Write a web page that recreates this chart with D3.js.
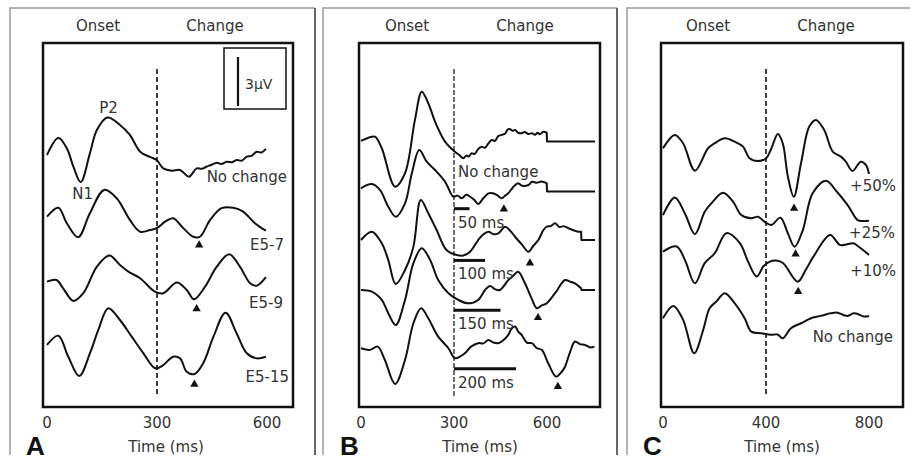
<!DOCTYPE html>
<html>
<head>
<meta charset="utf-8">
<script src="https://cdn.jsdelivr.net/npm/d3@7"></script>
<style>
  body { margin: 0; background: #fff; }
  svg text { font-family: "DejaVu Sans", sans-serif; fill: #333; }
</style>
</head>
<body>
<svg id="chart" width="910" height="465"></svg>
<script>
// ---- data: [time ms, μV relative to the trace baseline] ----
// panel A (electrode change)
var labelsA = ["No change", "E5-7", "E5-9", "E5-15"];
var offsetsA = [15.44, 11.66, 7.68, 3.80];   // stacking baselines (μV)
var ticksA = [0, 300, 600];
var aNoChange = [[0,0],[31,1.04],[54,0.41],[72,-0.72],[92,-1.66],[117,0.1],[136,1.53],[165,2.29],[199,1.84],[226,1.23],[254,0.2],[281,-0.12],[299,-0.31],[317,-0.82],[340,-0.96],[363,-0.92],[387,-1.33],[408,-0.82],[422,-0.85],[435,-0.72],[449,-0.6],[463,-0.47],[476,-0.55],[490,-0.41],[504,-0.45],[517,-0.31],[531,-0.35],[545,-0.1],[558,-0.05],[572,0.2],[585,0.15],[597,0.37]];
var aE57 = [[0,0],[31,0.55],[54,-0.4],[85,-1.26],[117,0.21],[156,1.64],[190,1.13],[226,-0.2],[254,-0.92],[281,-0.82],[299,-0.71],[322,-0.31],[344,-0.1],[372,-0.71],[399,-1.23],[417,-1.23],[445,-0.2],[476,0.52],[508,0.55],[535,0.31],[567,-0.4],[597,-0.86]];
var aE59 = [[0,0],[26,0.1],[44,-0.41],[72,-1.18],[99,-0.71],[136,0.92],[170,1.6],[199,1.02],[222,0.61],[254,0.21],[294,-0.61],[317,-0.71],[354,-0.06],[381,-0.51],[401,-1.08],[431,-0.31],[463,0.92],[497,1.68],[526,0.92],[554,-0.1],[572,-0.25],[597,0.27]];
var aE515 = [[0,0],[31,0.57],[58,-0.72],[88,-1.9],[117,-0.51],[140,0.92],[167,2.25],[199,1.53],[231,0.51],[263,-0.51],[295,-1.43],[317,-1.23],[344,-0.72],[363,-0.82],[381,-1.64],[402,-1.78],[426,-1.12],[454,0.51],[487,1.98],[517,0.72],[545,-0.51],[572,-0.82],[597,-0.72]];
var arrowsA = [[1,415,-1.74],[2,408,-1.67],[3,402,-2.41]];   // [trace, ms, μV]

// panel B (change duration)
var labelsB = ["No change", "50 ms", "100 ms", "150 ms", "200 ms"];
var durationsB = [50, 100, 150, 200];
var offsetsB = [16.30, 13.40, 10.23, 7.17, 3.60];
var ticksB = [0, 300, 600];
var bNoChange = [[0,0],[24,0.2],[45,0.26],[67,-0.45],[110,-2.8],[142,-1.98],[174,1.29],[196,3.02],[217,2.31],[239,1.18],[271,-0.04],[303,-0.66],[316,-0.85],[330,-1.06],[340,-0.9],[348,-0.95],[357,-0.75],[366,-0.8],[378,-0.5],[389,-0.35],[400,-0.42],[411,-0.15],[422,0.06],[432,0.0],[443,0.3],[454,0.37],[465,0.45],[473,0.7],[481,0.72],[489,0.62],[497,0.67],[507,0.5],[518,0.47],[528,0.55],[540,0.42],[551,0.47],[561,0.38],[570,0.5],[577,0.41],[588,0.56],[599,0.51],[600,-0.04],[755,-0.04]];
var b50 = [[0,0],[35,0.26],[61,-0.1],[88,-1.13],[112,-1.74],[142,-0.92],[164,0.92],[188,2.35],[212,1.63],[239,1.12],[271,0.41],[298,-0.52],[312,-0.45],[325,-0.61],[340,-0.4],[352,-0.52],[365,-0.7],[378,-0.96],[395,-0.6],[411,-0.31],[425,-0.3],[438,-0.41],[454,-0.61],[465,-0.45],[475,-0.31],[490,0.05],[507,0.31],[520,0.15],[540,0.2],[552,0.4],[567,0.34],[582,0.42],[599,0.31],[600,-0.2],[755,-0.2]];
var b100 = [[0,0],[35,0.51],[67,-0.2],[88,-1.23],[112,-2.7],[142,-1.84],[169,-0.41],[193,2.45],[217,1.64],[244,0.61],[276,-0.61],[309,-0.92],[330,-0.95],[352,-0.72],[378,0],[395,0.35],[411,0.51],[428,0.35],[443,0.41],[465,0.82],[480,0.6],[497,0.2],[520,-0.3],[540,-0.72],[556,-0.35],[572,0],[588,0.6],[599,0.82],[612,0.85],[626,1.02],[640,0.8],[655,0.85],[669,0.72],[685,0.6],[701,0.51],[710,0.5],[711,0],[755,0]];
var b150 = [[0,0],[35,-0.1],[67,-0.61],[88,-1.43],[112,-2.15],[142,-0.61],[169,1.64],[196,2.56],[223,1.84],[249,0.61],[282,-0.2],[314,-0.61],[346,-0.82],[378,-0.61],[400,0.0],[416,0.25],[432,0.05],[448,0.0],[475,0.6],[490,0.85],[507,1.12],[529,0.41],[550,-0.5],[567,-1.12],[583,-0.95],[599,-0.82],[626,-0.2],[658,0.61],[675,0.5],[690,0.41],[710,0.1],[711,0],[755,0]];
var b200 = [[0,0],[29,-0.1],[54,0.1],[77,-0.72],[110,-2.19],[142,-0.72],[169,1.53],[194,2.45],[217,1.84],[249,0.71],[282,0],[303,-0.61],[320,-0.5],[335,-0.31],[355,0.1],[378,0.31],[395,0.3],[411,0.51],[427,0.35],[443,0.31],[460,0.5],[475,0.82],[486,1.2],[497,1.33],[508,1.0],[518,0.82],[535,0.35],[551,0.31],[568,0.0],[583,-0.1],[604,-0.92],[629,-1.74],[645,-1.5],[658,-1.13],[675,-0.2],[690,0.41],[706,0.25],[723,0.2],[740,0.05],[753,0.1]];
var arrowsB = [[1,461,-1.27],[2,545,-1.41],[3,571,-1.70],[4,635,-2.35]];

// panel C (size of change)
var labelsC = ["+50%", "+25%", "+10%", "No change"];
var offsetsC = [15.85, 11.76, 9.52, 5.44];
var ticksC = [0, 400, 800];
var c50 = [[0,0],[46,0.82],[78,0.31],[124,-1.37],[175,0],[201,0.31],[240,0.61],[278,0.41],[311,0.1],[336,-0.61],[369,-0.78],[401,-0.61],[421,0],[446,0.88],[465,0.31],[485,-1.74],[508,-2.97],[536,-0.92],[568,1.33],[594,1.74],[626,1.12],[659,-0.2],[691,-0.51],[710,-0.82],[736,-1.39],[768,-0.82],[788,-1.02],[800,-1.58]];
var c25 = [[0,0],[46,1.08],[85,0.1],[124,-1.17],[162,0.2],[188,0.72],[233,1.37],[272,0.82],[304,0],[343,-0.2],[369,-0.1],[394,-0.41],[421,-0.61],[456,-0.16],[485,-1.12],[511,-1.94],[543,-0.92],[581,1.33],[633,2.1],[672,1.49],[717,0.61],[756,-0.31],[775,-0.37],[800,-0.35]];
var c10 = [[0,0],[53,0.31],[85,-0.51],[124,-1.94],[162,-0.71],[201,-0.1],[246,1.13],[299,0.51],[330,-0.6],[364,-1.53],[390,-0.9],[415,-0.61],[440,-0.55],[467,-0.71],[523,-1.84],[555,-1.1],[584,-0.31],[649,1.02],[687,0.41],[715,0.45],[739,0.51],[760,0.3],[800,-0.2]];
var c0 = [[0,0],[40,0.75],[78,-0.1],[121,-2.15],[156,-0.72],[181,0.61],[207,1.02],[240,1.53],[278,0.92],[317,0],[343,-0.82],[381,-0.92],[420,-1.02],[445,-1.0],[465,-1.23],[497,-0.61],[536,-0.31],[575,0],[600,0.1],[626,0.2],[650,0.3],[678,0.34],[700,0.2],[717,0.14],[740,0.3],[756,0.26],[780,0.1],[800,0.14]];
var arrowsC = [[0,509,-3.68],[1,515,-2.39],[2,525,-2.45]];

// ---- drawing ----
var svg = d3.select("#chart");
var top0 = 43, bottom0 = 407;
var y = d3.scaleLinear().domain([0, 22.3]).range([bottom0, top0]);   // μV, shared by all panels
var tri = d3.symbol().type(d3.symbolTriangle).size(30);

function drawPanel(p) {
  var x = d3.scaleLinear().domain(p.xDomain).range(p.xRange);
  var g = svg.append("g");

  // outer frame (open at the bottom)
  g.append("path")
    .attr("d", "M" + p.frame[0] + ",455V8H" + p.frame[1])
    .attr("fill", "none").attr("stroke", "#9a9a9a").attr("stroke-width", 1.5);
  g.append("line")
    .attr("x1", p.frame[1]).attr("x2", p.frame[1]).attr("y1", 8).attr("y2", 455)
    .attr("stroke", "#333").attr("stroke-width", 1.5);

  g.append("rect")
    .attr("x", p.box[0]).attr("y", top0)
    .attr("width", p.box[1] - p.box[0]).attr("height", bottom0 - top0)
    .attr("fill", "none").attr("stroke", "#111").attr("stroke-width", 2.5);

  g.append("text").attr("x", p.onsetX).attr("y", 31).attr("text-anchor", "middle")
    .style("font-size", "15px").text("Onset");
  g.append("text").attr("x", p.changeX).attr("y", 31).attr("text-anchor", "middle")
    .style("font-size", "15px").text("Change");

  // change marker
  g.append("line")
    .attr("x1", x(p.changeAt)).attr("x2", x(p.changeAt))
    .attr("y1", 69).attr("y2", 396)
    .attr("stroke", "#111").attr("stroke-width", p.dashW)
    .attr("stroke-dasharray", p.dash);

  // waveforms: smooth part, then a straight flat tail after a step (if any)
  var smooth = d3.line().curve(p.curve);
  var straight = d3.line();
  g.selectAll("path.trace")
    .data(p.traces)
    .enter().append("path")
    .attr("class", "trace")
    .attr("fill", "none").attr("stroke", "#111").attr("stroke-width", 2)
    .attr("stroke-linejoin", "round")
    .attr("d", function(d, i) {
      var pts = d.map(function(pt) { return [x(pt[0]), y(p.offsets[i] + pt[1])]; });
      var k = d.findIndex(function(pt, j) { return j > 0 && pt[0] - d[j - 1][0] <= 1; });
      if (k < 0) return smooth(pts);
      return smooth(pts.slice(0, k)) + straight(pts.slice(k - 1)).replace(/^M/, "L");
    });

  // arrows under the change responses
  g.selectAll("path.arrow")
    .data(p.arrows)
    .enter().append("path")
    .attr("class", "arrow")
    .attr("d", tri).attr("fill", "#111")
    .attr("transform", function(d) {
      return "translate(" + x(d[1]) + "," + y(p.offsets[d[0]] + d[2]) + ")";
    });

  // trace labels
  g.selectAll("text.lab")
    .data(p.labels)
    .enter().append("text")
    .attr("class", "lab")
    .attr("x", function(d, i) { return p.labelX[i]; })
    .attr("y", function(d, i) { return y(p.offsets[i]) + p.labelDy[i]; })
    .attr("text-anchor", p.labelAnchor)
    .style("font-size", "15px")
    .text(function(d) { return d; });

  // x tick labels
  g.selectAll("text.tick")
    .data(p.ticks)
    .enter().append("text")
    .attr("class", "tick")
    .attr("x", function(d) { return x(d); }).attr("y", 428)
    .attr("text-anchor", "middle")
    .style("font-size", "15px")
    .text(function(d) { return d; });

  g.append("text").attr("x", p.timeX).attr("y", 452).attr("text-anchor", "middle")
    .style("font-size", "15px").text("Time (ms)");

  g.append("text").attr("x", p.letterX).attr("y", 455)
    .style("font-family", "'Liberation Sans', Arial, sans-serif")
    .style("font-weight", "bold").style("font-size", "26px").style("fill", "#111")
    .text(p.letter);

  return { g: g, x: x };
}

// A
var pa = drawPanel({
  letter: "A", letterX: 26, frame: [10, 315], box: [43, 293],
  xDomain: [0, 600], xRange: [47, 267], changeAt: 300,
  onsetX: 98, changeX: 215, timeX: 166,
  dash: "5,3", dashW: 1.6, curve: d3.curveCatmullRom.alpha(0.5),
  traces: [aNoChange, aE57, aE59, aE515], offsets: offsetsA, arrows: arrowsA,
  labels: labelsA, labelX: [287, 284, 283, 289], labelDy: [27, 33, 26, 37], labelAnchor: "end",
  ticks: ticksA
});
// peak names and the 3 μV scale bar
pa.g.append("text").attr("x", pa.x(168)).attr("y", y(offsetsA[0] + 2.57))
  .attr("text-anchor", "middle").style("font-size", "15px").text("P2");
pa.g.append("text").attr("x", pa.x(97)).attr("y", y(offsetsA[1] + 1.08))
  .attr("text-anchor", "middle").style("font-size", "15px").text("N1");
pa.g.append("rect").attr("x", 224).attr("y", 48).attr("width", 62).attr("height", 61)
  .attr("fill", "#fff").attr("stroke", "#111").attr("stroke-width", 1.5);
pa.g.append("line").attr("x1", 238).attr("x2", 238)
  .attr("y1", y(18.44)).attr("y2", y(18.44 + 3))
  .attr("stroke", "#111").attr("stroke-width", 2.2);
pa.g.append("text").attr("x", 245).attr("y", 89).style("font-size", "14px").text("3μV");

// B
var pb = drawPanel({
  letter: "B", letterX: 340, frame: [323, 617], box: [359, 600],
  xDomain: [0, 600], xRange: [361, 547], changeAt: 300,
  onsetX: 407, changeX: 525, timeX: 480,
  dash: "5,2", dashW: 1.2, curve: d3.curveCatmullRom.alpha(0.5),
  traces: [bNoChange, b50, b100, b150, b200], offsets: offsetsB, arrows: arrowsB,
  labels: labelsB.slice(0, 1), labelX: [458], labelDy: [36], labelAnchor: "start",
  ticks: ticksB
});
// change duration bars with labels
var bars = pb.g.selectAll("g.dur")
  .data(durationsB)
  .enter().append("g").attr("class", "dur");
bars.append("line")
  .attr("x1", pb.x(300)).attr("x2", function(d) { return pb.x(300 + d); })
  .attr("y1", function(d, i) { return y(offsetsB[i + 1] - 1.25); })
  .attr("y2", function(d, i) { return y(offsetsB[i + 1] - 1.25); })
  .attr("stroke", "#111").attr("stroke-width", 3);
bars.append("text")
  .attr("x", 458)
  .attr("y", function(d, i) { return y(offsetsB[i + 1] - 1.25) + 19; })
  .style("font-size", "15px")
  .text(function(d, i) { return labelsB[i + 1]; });

// C
drawPanel({
  letter: "C", letterX: 643, frame: [627, 912], box: [661, 903],
  xDomain: [0, 800], xRange: [663, 869], changeAt: 400,
  onsetX: 708, changeX: 826, timeX: 782,
  dash: "5,3", dashW: 1.6, curve: d3.curveCatmullRom.alpha(0.5),
  traces: [c50, c25, c10, c0], offsets: offsetsC, arrows: arrowsC,
  labels: labelsC, labelX: [896, 895, 896, 893], labelDy: [43, 23, 24, 24], labelAnchor: "end",
  ticks: ticksC
});
</script>
</body>
</html>
